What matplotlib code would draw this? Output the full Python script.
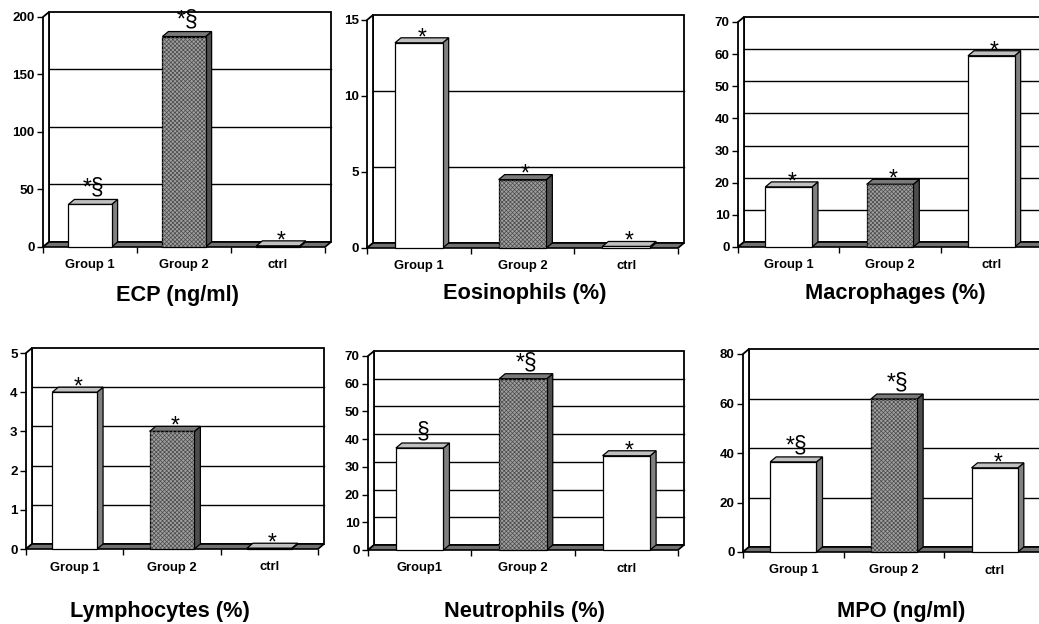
import matplotlib
matplotlib.use('Agg')
import matplotlib.pyplot as plt
from matplotlib.patches import Polygon
import numpy as np

plt.rcParams['font.family'] = ['Liberation Sans', 'DejaVu Sans']
plt.rcParams['hatch.linewidth'] = 0.5

# data
groups = ['Group 1', 'Group 2', 'ctrl']
groups_neut = ['Group1', 'Group 2', 'ctrl']

ecp = [37, 183, 1]
eos = [13.5, 4.5, 0.1]
macro = [18.7, 19.5, 59.5]
lymph = [4.0, 3.0, 0.02]
neut = [36.8, 61.8, 34.0]
mpo = [36.4, 61.8, 34.0]

ecp_marks = ['*§', '*§', '*']
eos_marks = ['*', '*', '*']
macro_marks = ['*', '*', '*']
lymph_marks = ['*', '*', '*']
neut_marks = ['§', '*§', '*']
mpo_marks = ['*§', '*§', '*']

ecp_ticks = [0, 50, 100, 150, 200]
eos_ticks = [0, 5, 10, 15]
macro_ticks = [0, 10, 20, 30, 40, 50, 60, 70]
lymph_ticks = [0, 1, 2, 3, 4, 5]
neut_ticks = [0, 10, 20, 30, 40, 50, 60, 70]
mpo_ticks = [0, 20, 40, 60, 80]

titles = ['ECP (ng/ml)', 'Eosinophils (%)', 'Macrophages (%)',
          'Lymphocytes (%)', 'Neutrophils (%)', 'MPO (ng/ml)']

# layout (pixels): front plot box left, right, zero line, top line; title centre
W, H = 1039, 624
boxes = [(43, 325, 247, 17), (367, 678, 248, 20), (738, 1042, 247, 22),
         (26, 318, 549, 353), (368, 678, 550, 356), (743, 1045, 552, 354)]
title_pos = [(177, 295), (525, 293), (895, 293), (160, 612), (525, 612), (901, 612)]
DX, DY = 6, 5      # 3d depth in pixels
BW = 0.46          # bar width

fig = plt.figure(figsize=(W / 100, H / 100), dpi=100)
fig.patch.set_facecolor('white')


def draw_panel(box, cats, vals, marks, ticks, title, tpos):
    x0, x1, y0, y1 = box
    ax = fig.add_axes([x0 / W, 1 - y0 / H, (x1 - x0) / W, (y0 - y1) / H])
    ymax = ticks[-1]
    xl, xr = -0.5, 2.5
    ax.set_xlim(xl, xr)
    ax.set_ylim(0, ymax)
    ddx = DX / (x1 - x0) * 3
    ddy = DY / (y0 - y1) * ymax
    for s in ax.spines.values():
        s.set_visible(False)
    ax.patch.set_visible(False)

    # walls
    ax.add_patch(Polygon([(xl + ddx, ddy), (xr + ddx, ddy), (xr + ddx, ymax + ddy), (xl + ddx, ymax + ddy)],
                         closed=True, fc='white', ec='black', lw=1.3, clip_on=False, zorder=1))
    ax.add_patch(Polygon([(xl, 0), (xl, ymax), (xl + ddx, ymax + ddy), (xl + ddx, ddy)],
                         closed=True, fc='white', ec='black', lw=1.3, clip_on=False, zorder=1))
    for t in ticks[1:-1]:
        ax.plot([xl + ddx, xr + ddx], [t + ddy, t + ddy], color='black', lw=1.0,
                clip_on=False, zorder=2)
    # floor
    ax.add_patch(Polygon([(xl, 0), (xr, 0), (xr + ddx, ddy), (xl + ddx, ddy)],
                         closed=True, fc='#707070', ec='black', lw=1.2, clip_on=False, zorder=3))

    x = np.arange(len(vals))
    fronts = ['white', '#a0a0a0', 'white']
    sides = ['#808080', '#4d4d4d', '#808080']
    tops = ['#c0c0c0', '#7a7a7a', '#c0c0c0']
    bars = ax.bar(x, vals, width=BW, color=fronts, edgecolor='black', lw=0.9, zorder=6,
                  clip_on=False)
    for i, rect in enumerate(bars):
        l = rect.get_x()
        r = l + rect.get_width()
        v = rect.get_height()
        ax.add_patch(Polygon([(r, 0), (r + ddx, ddy), (r + ddx, v + ddy), (r, v)], closed=True,
                             fc=sides[i], ec='black', lw=0.9, clip_on=False, zorder=5))
        ax.add_patch(Polygon([(l, v), (r, v), (r + ddx, v + ddy), (l + ddx, v + ddy)], closed=True,
                             fc=tops[i], ec='black', lw=0.9, clip_on=False, zorder=5))
        if i == 1:
            ax.add_patch(Polygon([(l, 0), (r, 0), (r, v), (l, v)], closed=True, fc='none',
                                 ec='#4a4a4a', lw=0, hatch='xxxxxxxx', clip_on=False, zorder=6.5))
        m = marks[i]
        yoff = 7 if '§' in m else -1
        ax.annotate(m, xy=(x[i] + ddx / 2, v), xytext=(0, yoff), textcoords='offset points',
                    ha='center', va='baseline', fontsize=16.5, zorder=8, annotation_clip=False)

    ax.set_yticks(ticks)
    ax.set_yticklabels([str(t) for t in ticks], fontsize=9.6, fontweight='bold')
    ax.tick_params(axis='y', direction='out', length=4, width=1, pad=2)
    ax.set_xticks(x)
    ax.set_xticklabels(cats, fontsize=9.4, fontweight='bold')
    ax.set_xticks([-0.5, 0.5, 1.5, 2.5], minor=True)
    ax.tick_params(axis='x', which='major', length=0, pad=9)
    ax.tick_params(axis='x', which='minor', length=4, width=1, direction='out')

    fig.text(tpos[0] / W, 1 - tpos[1] / H, title, ha='center', va='center',
             fontsize=15.7, fontweight='bold')


draw_panel(boxes[0], groups, ecp, ecp_marks, ecp_ticks, titles[0], title_pos[0])
draw_panel(boxes[1], groups, eos, eos_marks, eos_ticks, titles[1], title_pos[1])
draw_panel(boxes[2], groups, macro, macro_marks, macro_ticks, titles[2], title_pos[2])
draw_panel(boxes[3], groups, lymph, lymph_marks, lymph_ticks, titles[3], title_pos[3])
draw_panel(boxes[4], groups_neut, neut, neut_marks, neut_ticks, titles[4], title_pos[4])
draw_panel(boxes[5], groups, mpo, mpo_marks, mpo_ticks, titles[5], title_pos[5])

fig.savefig('out.png', dpi=100, facecolor='white')
